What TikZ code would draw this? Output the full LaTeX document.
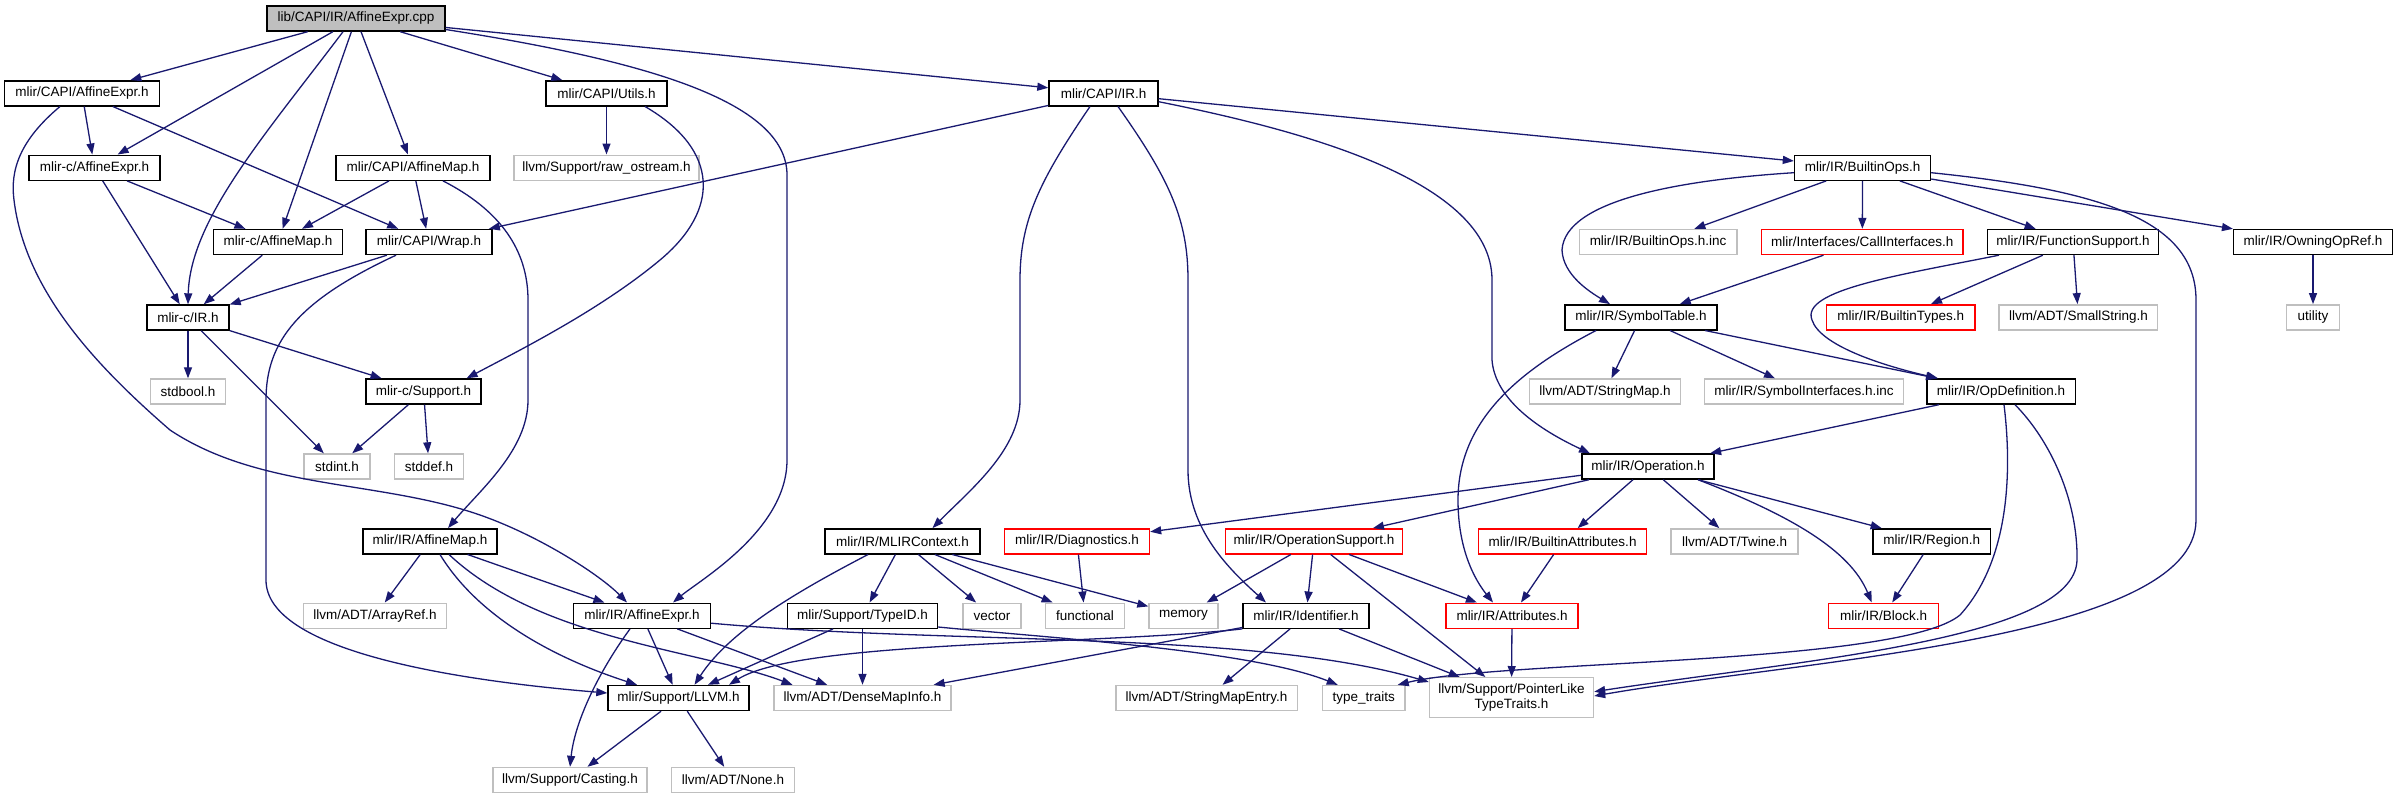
\documentclass[tikz,border=0pt]{standalone}
\usepackage{fontspec}
\setmainfont{Liberation Sans}
\usetikzlibrary{arrows.meta,calc}
\definecolor{edgeblue}{RGB}{25,25,112}
\definecolor{extgray}{RGB}{191,191,191}
\definecolor{trunkred}{RGB}{255,0,0}
\definecolor{srcfill}{RGB}{191,191,191}
\tikzset{
  hdrbox/.style={rectangle, draw=black, line width=0.7pt, fill=white,
    minimum height=12.5pt, inner xsep=2pt, inner ysep=1pt, align=center,
    font=\fontsize{6.75}{7.5}\selectfont},
  srcbox/.style={hdrbox, fill=srcfill},
  extbox/.style={hdrbox, draw=extgray},
  redbox/.style={hdrbox, draw=trunkred},
  bw/.style={minimum width=#1*0.5pt},
  incflow/.style={-{Triangle[length=5.5pt,width=4pt]}, line width=0.65pt, draw=edgeblue}
}
\begin{document}
\begin{tikzpicture}[x=0.5pt, y=-0.5pt]
  \useasboundingbox (0,0) rectangle (2398,799);

  % --- source file ---
  \node[srcbox, bw=178] (src) at (356,18.5) {lib/CAPI/IR/AffineExpr.cpp};

  % --- CAPI headers ---
  \node[hdrbox, bw=155] (capiExpr) at (82,93.3) {mlir/CAPI/AffineExpr.h};
  \node[hdrbox, bw=121] (capiUtils) at (606.5,93.3) {mlir/CAPI/Utils.h};
  \node[hdrbox, bw=109] (capiIR) at (1103.5,93.3) {mlir/CAPI/IR.h};

  \node[hdrbox, bw=131] (cExpr) at (94.5,167.7) {mlir-c/AffineExpr.h};
  \node[hdrbox, bw=154] (capiMap) at (413,167.7) {mlir/CAPI/AffineMap.h};
  \node[extbox, bw=185] (rawOstream) at (606.5,167.7) {llvm/Support/raw\_ostream.h};
  \node[hdrbox, bw=136] (builtinOps) at (1862.5,167.7) {mlir/IR/BuiltinOps.h};

  \node[hdrbox, bw=128.5] (cMap) at (278,242) {mlir-c/AffineMap.h};
  \node[hdrbox, bw=126] (capiWrap) at (429,242) {mlir/CAPI/Wrap.h};
  \node[extbox, bw=157.6] (opsInc) at (1658,242) {mlir/IR/BuiltinOps.h.inc};
  \node[redbox, bw=201.6] (callIf) at (1862.3,242) {mlir/Interfaces/CallInterfaces.h};
  \node[hdrbox, bw=171] (funcSupport) at (2073,242) {mlir/IR/FunctionSupport.h};
  \node[hdrbox, bw=158.7] (owningRef) at (2313,242) {mlir/IR/OwningOpRef.h};

  % --- C API / IR core ---
  \node[hdrbox, bw=82] (cIR) at (188,317.5) {mlir-c/IR.h};
  \node[hdrbox, bw=152] (symTable) at (1641,317.3) {mlir/IR/SymbolTable.h};
  \node[redbox, bw=148.4] (builtinTypes) at (1900.8,317.3) {mlir/IR/BuiltinTypes.h};
  \node[extbox, bw=158.7] (smallString) at (2078.4,317.3) {llvm/ADT/SmallString.h};
  \node[extbox, bw=53.4] (utility) at (2313,317.3) {utility};

  \node[extbox, bw=75] (stdbool) at (188,391.5) {stdbool.h};
  \node[hdrbox, bw=115] (cSupport) at (423.6,391.5) {mlir-c/Support.h};
  \node[extbox, bw=151] (stringMap) at (1605,391.5) {llvm/ADT/StringMap.h};
  \node[extbox, bw=199] (symIfInc) at (1804,391.5) {mlir/IR/SymbolInterfaces.h.inc};
  \node[hdrbox, bw=148.4] (opDef) at (2001,391.5) {mlir/IR/OpDefinition.h};

  \node[extbox, bw=66] (stdint) at (337,466.5) {stdint.h};
  \node[extbox, bw=69] (stddef) at (429,466.5) {stddef.h};
  \node[hdrbox, bw=132] (operation) at (1648,466.5) {mlir/IR/Operation.h};

  \node[hdrbox, bw=134] (irMap) at (430,541.3) {mlir/IR/AffineMap.h};
  \node[hdrbox, bw=155] (mlirCtx) at (902.5,541.3) {mlir/IR/MLIRContext.h};
  \node[redbox, bw=145] (diagnostics) at (1077,541.3) {mlir/IR/Diagnostics.h};
  \node[redbox, bw=177] (opSupport) at (1314,541.3) {mlir/IR/OperationSupport.h};
  \node[redbox, bw=168] (builtinAttr) at (1562.6,541.3) {mlir/IR/BuiltinAttributes.h};
  \node[extbox, bw=127] (twine) at (1734.6,541.3) {llvm/ADT/Twine.h};
  \node[hdrbox, bw=117.6] (region) at (1931.7,541.3) {mlir/IR/Region.h};

  \node[extbox, bw=143] (arrayRef) at (375,615.7) {llvm/ADT/ArrayRef.h};
  \node[hdrbox, bw=137] (irExpr) at (642,615.7) {mlir/IR/AffineExpr.h};
  \node[hdrbox, bw=150] (typeId) at (862.5,615.7) {mlir/Support/TypeID.h};
  \node[extbox, bw=58] (vector) at (992,615.7) {vector};
  \node[extbox, bw=78.6] (functional) at (1085,615.7) {functional};
  \node[extbox, bw=69] (memory) at (1183.5,615.7) {memory};
  \node[hdrbox, bw=126] (identifier) at (1306,615.7) {mlir/IR/Identifier.h};
  \node[redbox, bw=132] (attributes) at (1512,615.7) {mlir/IR/Attributes.h};
  \node[redbox, bw=110] (block) at (1883.7,615.7) {mlir/IR/Block.h};

  % --- support / llvm ---
  \node[hdrbox, bw=141] (llvmH) at (678.5,698) {mlir/Support/LLVM.h};
  \node[extbox, bw=177] (denseMap) at (862.5,698) {llvm/ADT/DenseMapInfo.h};
  \node[extbox, bw=181.6] (strMapEntry) at (1206.6,698) {llvm/ADT/StringMapEntry.h};
  \node[extbox, bw=82.7] (typeTraits) at (1363.7,698) {type\_traits};
  \node[extbox, bw=164, minimum height=20pt] (ptrLike) at (1511.5,697.7)
       {llvm/Support/PointerLike\\TypeTraits.h};

  \node[extbox, bw=154] (casting) at (570,780) {llvm/Support/Casting.h};
  \node[extbox, bw=123] (noneH) at (733,780) {llvm/ADT/None.h};

  % ---------------- edges ----------------
  \draw[incflow] (src) -- (capiExpr);
  \draw[incflow] (src) -- (cExpr);
  \draw[incflow] (src) -- (cMap);
  \draw[incflow] (src) -- (capiMap);
  \draw[incflow] (src) -- (capiUtils);
  \draw[incflow] (src) -- (capiIR);
  \draw[incflow] ($(src.south)+(-13,0)$) .. controls (265,135) and (190,220) .. (cIR.north);
  \draw[incflow] ($(src.east)+(0,11)$) .. controls (640,60) and (787,100) .. (787,175)
        -- (787,460) .. controls (787,530) and (700,580) .. ($(irExpr.north)+(31,0)$);

  \draw[incflow] (capiExpr) -- (cExpr);
  \draw[incflow] (capiExpr) -- (capiWrap);
  \draw[incflow] ($(capiExpr.south)+(-22,0)$) .. controls (20,140) and (10,170) .. (14,200)
        .. controls (25,290) and (95,365) .. (170,430)
        .. controls (260,490) and (380,480) .. (480,515)
        .. controls (540,536) and (600,575) .. ($(irExpr.north)+(-15,0)$);

  \draw[incflow] (cExpr) -- (cMap);
  \draw[incflow] (cExpr) -- (cIR);
  \draw[incflow] (capiMap) -- (cMap);
  \draw[incflow] (capiMap) -- (capiWrap);
  \draw[incflow] ($(capiMap.south)+(30,0)$) .. controls (500,210) and (528,250) .. (528,300)
        -- (528,400) .. controls (528,450) and (480,490) .. ($(irMap.north)+(18,0)$);
  \draw[incflow] (cMap) -- (cIR);
  \draw[incflow] (capiWrap) -- (cIR);
  \draw[incflow] ($(capiWrap.south)+(-33,0)$) .. controls (300,300) and (266,340) .. (266,400)
        -- (266,580) .. controls (266,650) and (450,680) .. ($(llvmH.west)+(0,-5)$);

  \draw[incflow] (capiUtils) -- (rawOstream);
  \draw[incflow] ($(capiUtils.south)+(38.5,0)$) .. controls (720,150) and (720,210) .. (660,260)
        .. controls (600,310) and (520,350) .. ($(cSupport.north)+(43,0)$);

  \draw[incflow] (capiIR) -- (capiWrap);
  \draw[incflow] (capiIR) -- (builtinOps);
  \draw[incflow] ($(capiIR.south)+(-13.5,0)$) .. controls (1040,180) and (1020,220) .. (1020,280)
        -- (1020,400) .. controls (1020,450) and (970,490) .. ($(mlirCtx.north)+(30,0)$);
  \draw[incflow] ($(capiIR.south)+(14.5,0)$) .. controls (1170,180) and (1188,220) .. (1188,280)
        -- (1188,470) .. controls (1188,530) and (1230,570) .. ($(identifier.north)+(-40,0)$);
  \draw[incflow] ($(capiIR.east)+(0,8.4)$) .. controls (1300,130) and (1492,180) .. (1492,280)
        -- (1492,360) .. controls (1495,400) and (1540,430) .. ($(operation.north)+(-58,0)$);

  \draw[incflow] (cIR) -- (stdbool);
  \draw[incflow] (cIR) -- (stdint);
  \draw[incflow] (cIR) -- (cSupport);
  \draw[incflow] (cSupport) -- (stdint);
  \draw[incflow] (cSupport) -- (stddef);

  % ir/affine map and expr
  \draw[incflow] (irMap) -- (arrayRef);
  \draw[incflow] (irMap) -- (irExpr);
  \draw[incflow] ($(irMap.south)+(10,0)$) .. controls (480,620) and (560,660) .. ($(llvmH.north)+(-41.5,0)$);
  \draw[incflow] ($(irMap.south)+(19,0)$) .. controls (540,640) and (700,650) .. ($(denseMap.north)+(-70,0)$);
  \draw[incflow] (irExpr) -- (llvmH);
  \draw[incflow] (irExpr) -- (denseMap);
  \draw[incflow] ($(irExpr.south)+(-12,0)$) .. controls (600,670) and (575,720) .. (casting.north);
  \draw[incflow] ($(irExpr.east)+(0,7.5)$) .. controls (950,645) and (1250,630) .. ($(ptrLike.north west)+(0,5)$);
  \draw[incflow] (llvmH) -- (casting);
  \draw[incflow] (llvmH) -- (noneH);

  % context, ids
  \draw[incflow] (mlirCtx) -- (typeId);
  \draw[incflow] (mlirCtx) -- (vector);
  \draw[incflow] (mlirCtx) -- (functional);
  \draw[incflow] (mlirCtx) -- (memory);
  \draw[incflow] ($(mlirCtx.south)+(-34.5,0)$) .. controls (800,590) and (730,630) .. ($(llvmH.north)+(16,0)$);
  \draw[incflow] (diagnostics) -- (functional);
  \draw[incflow] (typeId) -- (llvmH);
  \draw[incflow] (typeId) -- (denseMap);
  \draw[incflow] ($(typeId.east)+(0,11.3)$) .. controls (1050,638) and (1250,650) .. ($(typeTraits.north)+(-26,0)$);
  \draw[incflow] (identifier) -- (denseMap);
  \draw[incflow] (identifier) -- (strMapEntry);
  \draw[incflow] (identifier) -- (ptrLike);
  \draw[incflow] (identifier.south west) .. controls (1100,645) and (800,640) .. ($(llvmH.north)+(50.5,0)$);

  % operation
  \draw[incflow] (operation) -- (diagnostics);
  \draw[incflow] (operation) -- (opSupport);
  \draw[incflow] (operation) -- (builtinAttr);
  \draw[incflow] (operation) -- (twine);
  \draw[incflow] (operation) -- (region);
  \draw[incflow] ($(operation.south)+(50,0)$) .. controls (1790,515) and (1850,550) .. ($(block.north)+(-12,0)$);
  \draw[incflow] (opSupport) -- (memory);
  \draw[incflow] (opSupport) -- (identifier);
  \draw[incflow] (opSupport) -- (ptrLike);
  \draw[incflow] (opSupport) -- (attributes);
  \draw[incflow] (builtinAttr) -- (attributes);
  \draw[incflow] (region) -- (block);
  \draw[incflow] (attributes) -- (ptrLike);

  % builtin ops
  \draw[incflow] (builtinOps) -- (opsInc);
  \draw[incflow] (builtinOps) -- (callIf);
  \draw[incflow] (builtinOps) -- (funcSupport);
  \draw[incflow] (builtinOps) -- (owningRef);
  \draw[incflow] ($(builtinOps.west)+(0,5)$) .. controls (1680,180) and (1565,200) .. (1562,250)
        .. controls (1563,275) and (1590,292) .. ($(symTable.north)+(-31,0)$);
  \draw[incflow] ($(builtinOps.east)+(0,5)$) .. controls (2100,190) and (2196,220) .. (2196,300)
        -- (2196,520) .. controls (2196,640) and (1800,660) .. ($(ptrLike.east)+(0,-1.7)$);
  \draw[incflow] (callIf) -- (symTable);
  \draw[incflow] (funcSupport) -- (builtinTypes);
  \draw[incflow] (funcSupport) -- (smallString);
  \draw[incflow] ($(funcSupport.south)+(-74,0)$) .. controls (1900,275) and (1800,290) .. (1812,320)
        .. controls (1820,345) and (1880,365) .. ($(opDef.north)+(-63,0)$);
  \draw[incflow] (owningRef) -- (utility);

  % symbol table, op definition
  \draw[incflow] (symTable) -- (stringMap);
  \draw[incflow] (symTable) -- (symIfInc);
  \draw[incflow] (symTable) -- (opDef);
  \draw[incflow] ($(symTable.south)+(-45,0)$) .. controls (1520,370) and (1458,420) .. (1458,500)
        .. controls (1458,550) and (1475,580) .. ($(attributes.north)+(-19,0)$);
  \draw[incflow] (opDef) -- (operation);
  \draw[incflow] ($(opDef.south)+(3,0)$) .. controls (2012,470) and (2010,560) .. (1960,615)
        .. controls (1900,665) and (1500,660) .. ($(typeTraits.north)+(34,0)$);
  \draw[incflow] ($(opDef.south)+(14,0)$) .. controls (2050,440) and (2078,500) .. (2077,560)
        .. controls (2075,640) and (1800,660) .. ($(ptrLike.east)+(0,-6)$);

\end{tikzpicture}
\end{document}
